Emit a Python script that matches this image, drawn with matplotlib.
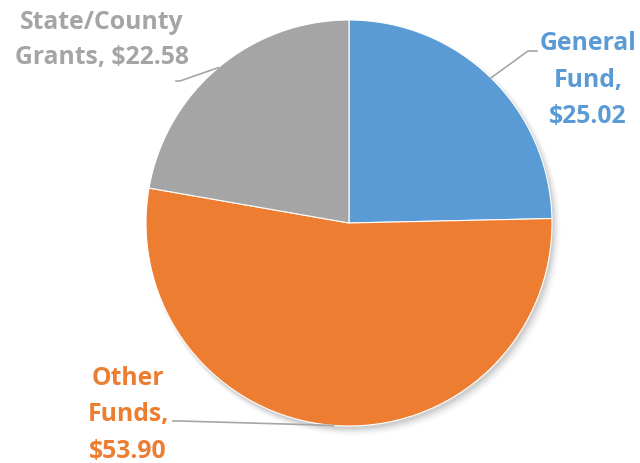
import matplotlib
matplotlib.use("Agg")
import matplotlib.pyplot as plt
import numpy as np
from matplotlib.patches import Circle

categories = ["General Fund", "Other Funds", "State/County Grants"]
values = [25.02, 53.90, 22.58]
colors = ["#5B9BD5", "#ED7D31", "#A5A5A5"]
label_text = ["General\nFund,\n$25.02", "Other\nFunds,\n$53.90", "State/County\nGrants, $22.58"]

W, H = 640, 464
fig = plt.figure(figsize=(6.4, 4.64), dpi=100)
ax = fig.add_axes([0, 0, 1, 1])

cx, cy, r = 349, H - 224, 203

# soft shadow
for i, a in enumerate(np.linspace(0.05, 0.01, 6)):
    ax.add_patch(Circle((cx + 2 + i * 0.6, cy - 3 - i * 0.6), r + i * 0.8,
                        color="black", alpha=a, lw=0, zorder=0))

wedges, _ = ax.pie(values, colors=colors, startangle=90, counterclock=False,
                   center=(cx, cy), radius=r, wedgeprops=dict(lw=0.8, edgecolor="white"),
                   frame=True)
ax.set_xlim(0, W)
ax.set_ylim(0, H)
ax.set_aspect("equal")
ax.axis("off")

font = dict(family=["Open Sans", "DejaVu Sans"], weight="bold", fontsize=17.8)

lab_pos = [(588, H - 80), (128, H - 415), (102, H - 40)]
spacing = [1.62, 1.62, 1.48]
elbows = [[(528, H - 52), (537, H - 52)], [(180, H - 422), (173, H - 422)], [(180, H - 82), (176, H - 82)]]
for w, txt, col, pos, elb, ls in zip(wedges, label_text, colors, lab_pos, elbows, spacing):
    ang = np.deg2rad((w.theta1 + w.theta2) / 2)
    px, py = cx + r * np.cos(ang), cy + r * np.sin(ang)
    xs = [px] + [e[0] for e in elb]
    ys = [py] + [e[1] for e in elb]
    ax.plot(xs, ys, color="#A6A6A6", lw=1.2, zorder=3)
    ax.text(pos[0], pos[1], txt, color=col, ha="center", va="center",
            linespacing=ls, **font)

fig.savefig("out.png", dpi=100)
